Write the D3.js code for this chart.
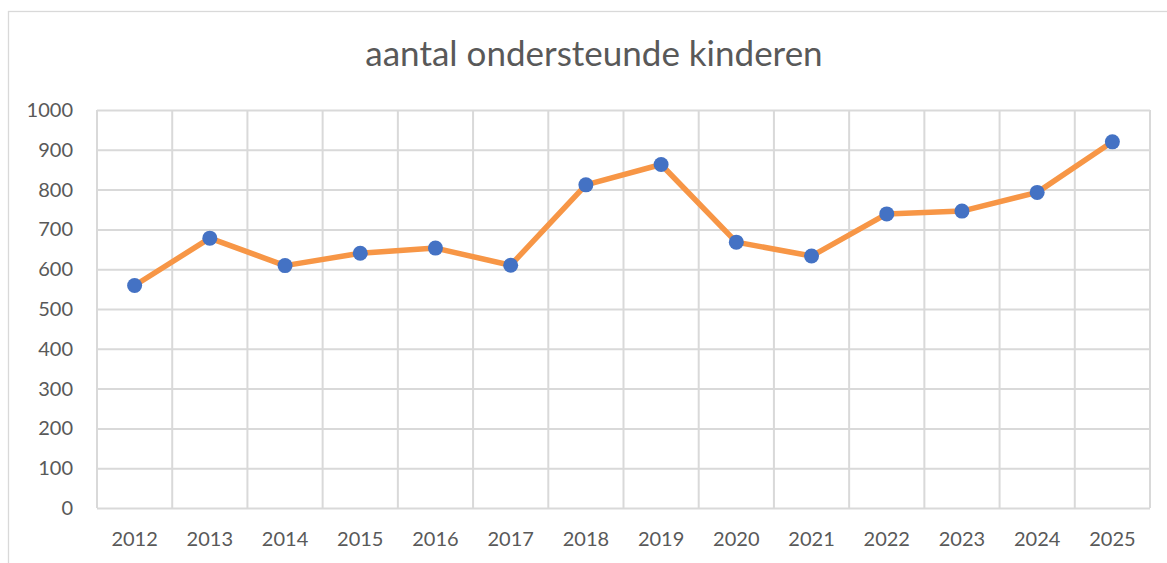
<!DOCTYPE html>
<html>
<head>
<meta charset="utf-8">
<script src="https://cdn.jsdelivr.net/npm/d3@7"></script>
<style>
  body { margin: 0; background: #fff; }
  svg { display: block; }
</style>
</head>
<body>
<svg id="chart"></svg>
<script>
const years = ["2012", "2013", "2014", "2015", "2016", "2017", "2018", "2019", "2020", "2021", "2022", "2023", "2024", "2025"];
const counts = [559, 678, 609, 640, 653, 610, 812, 863, 668, 633, 739, 746, 793, 920];
const yTicks = [0, 100, 200, 300, 400, 500, 600, 700, 800, 900, 1000];
const title = "aantal ondersteunde kinderen";

const data = years.map((y, i) => ({year: y, count: counts[i]}));

const style = ({
    width: 1167,
    height: 563,
    margin: {left: 97, right: 17, top: 110, bottom: 55},
    font: "Lato, 'Open Sans', sans-serif",
    text: "#595959",
    grid: "#d9d9d9",
    line: "#f79646",
    dot: "#4472c4"
})

const svg = d3.select("#chart")
    .attr("width", style.width)
    .attr("height", style.height)
    .attr("viewBox", [0, 0, style.width, style.height]);

// outer chart border
svg.append("rect")
    .attr("x", 8.5).attr("y", 11.5)
    .attr("width", style.width).attr("height", style.height)
    .style("fill", "none")
    .style("stroke", style.grid)
    .style("stroke-width", 1.3);

const x = d3.scaleBand()
    .domain(years)
    .range([style.margin.left, style.width - style.margin.right]);

const y = d3.scaleLinear()
    .domain([0, 1000])
    .range([style.height - style.margin.bottom, style.margin.top]);

const g = svg.append("g");

// horizontal gridlines + y labels
const yAxis = d3.axisLeft(y)
    .tickValues(yTicks)
    .tickSize(-(x.range()[1] - x.range()[0]))
    .tickPadding(24)
    .tickFormat(d3.format("d"));

g.append("g")
    .attr("transform", `translate(${style.margin.left},0)`)
    .call(yAxis)
    .call(s => s.select(".domain").remove())
    .call(s => s.selectAll("line").style("stroke", style.grid).style("stroke-width", 2))
    .call(s => s.selectAll("text")
        .style("fill", style.text)
        .style("font", `20px ${style.font}`));

// vertical gridlines at category boundaries
const bounds = years.map(d => x(d)).concat([x.range()[1]]);
g.append("g")
    .selectAll("line")
    .data(bounds)
    .join("line")
    .attr("x1", d => d).attr("x2", d => d)
    .attr("y1", y(0)).attr("y2", y(1000))
    .style("stroke", style.grid)
    .style("stroke-width", 2);

// x labels
const xAxis = d3.axisBottom(x).tickSize(0).tickPadding(24);
g.append("g")
    .attr("transform", `translate(0,${y(0)})`)
    .call(xAxis)
    .call(s => s.select(".domain").remove())
    .call(s => s.selectAll("text")
        .style("fill", style.text)
        .style("font", `20px ${style.font}`));

const cx = d => x(d.year) + x.bandwidth() / 2;

const line = d3.line()
    .x(cx)
    .y(d => y(d.count));

g.append("path")
    .datum(data)
    .attr("d", line)
    .style("fill", "none")
    .style("stroke", style.line)
    .style("stroke-width", 5.5)
    .style("stroke-linejoin", "round");

g.append("g")
    .selectAll("circle")
    .data(data)
    .join("circle")
    .attr("cx", cx)
    .attr("cy", d => y(d.count))
    .attr("r", 7.5)
    .style("fill", style.dot);

svg.append("text")
    .attr("x", 594)
    .attr("y", 66)
    .attr("text-anchor", "middle")
    .style("fill", style.text)
    .style("font", `35px ${style.font}`)
    .text(title);
</script>
</body>
</html>
